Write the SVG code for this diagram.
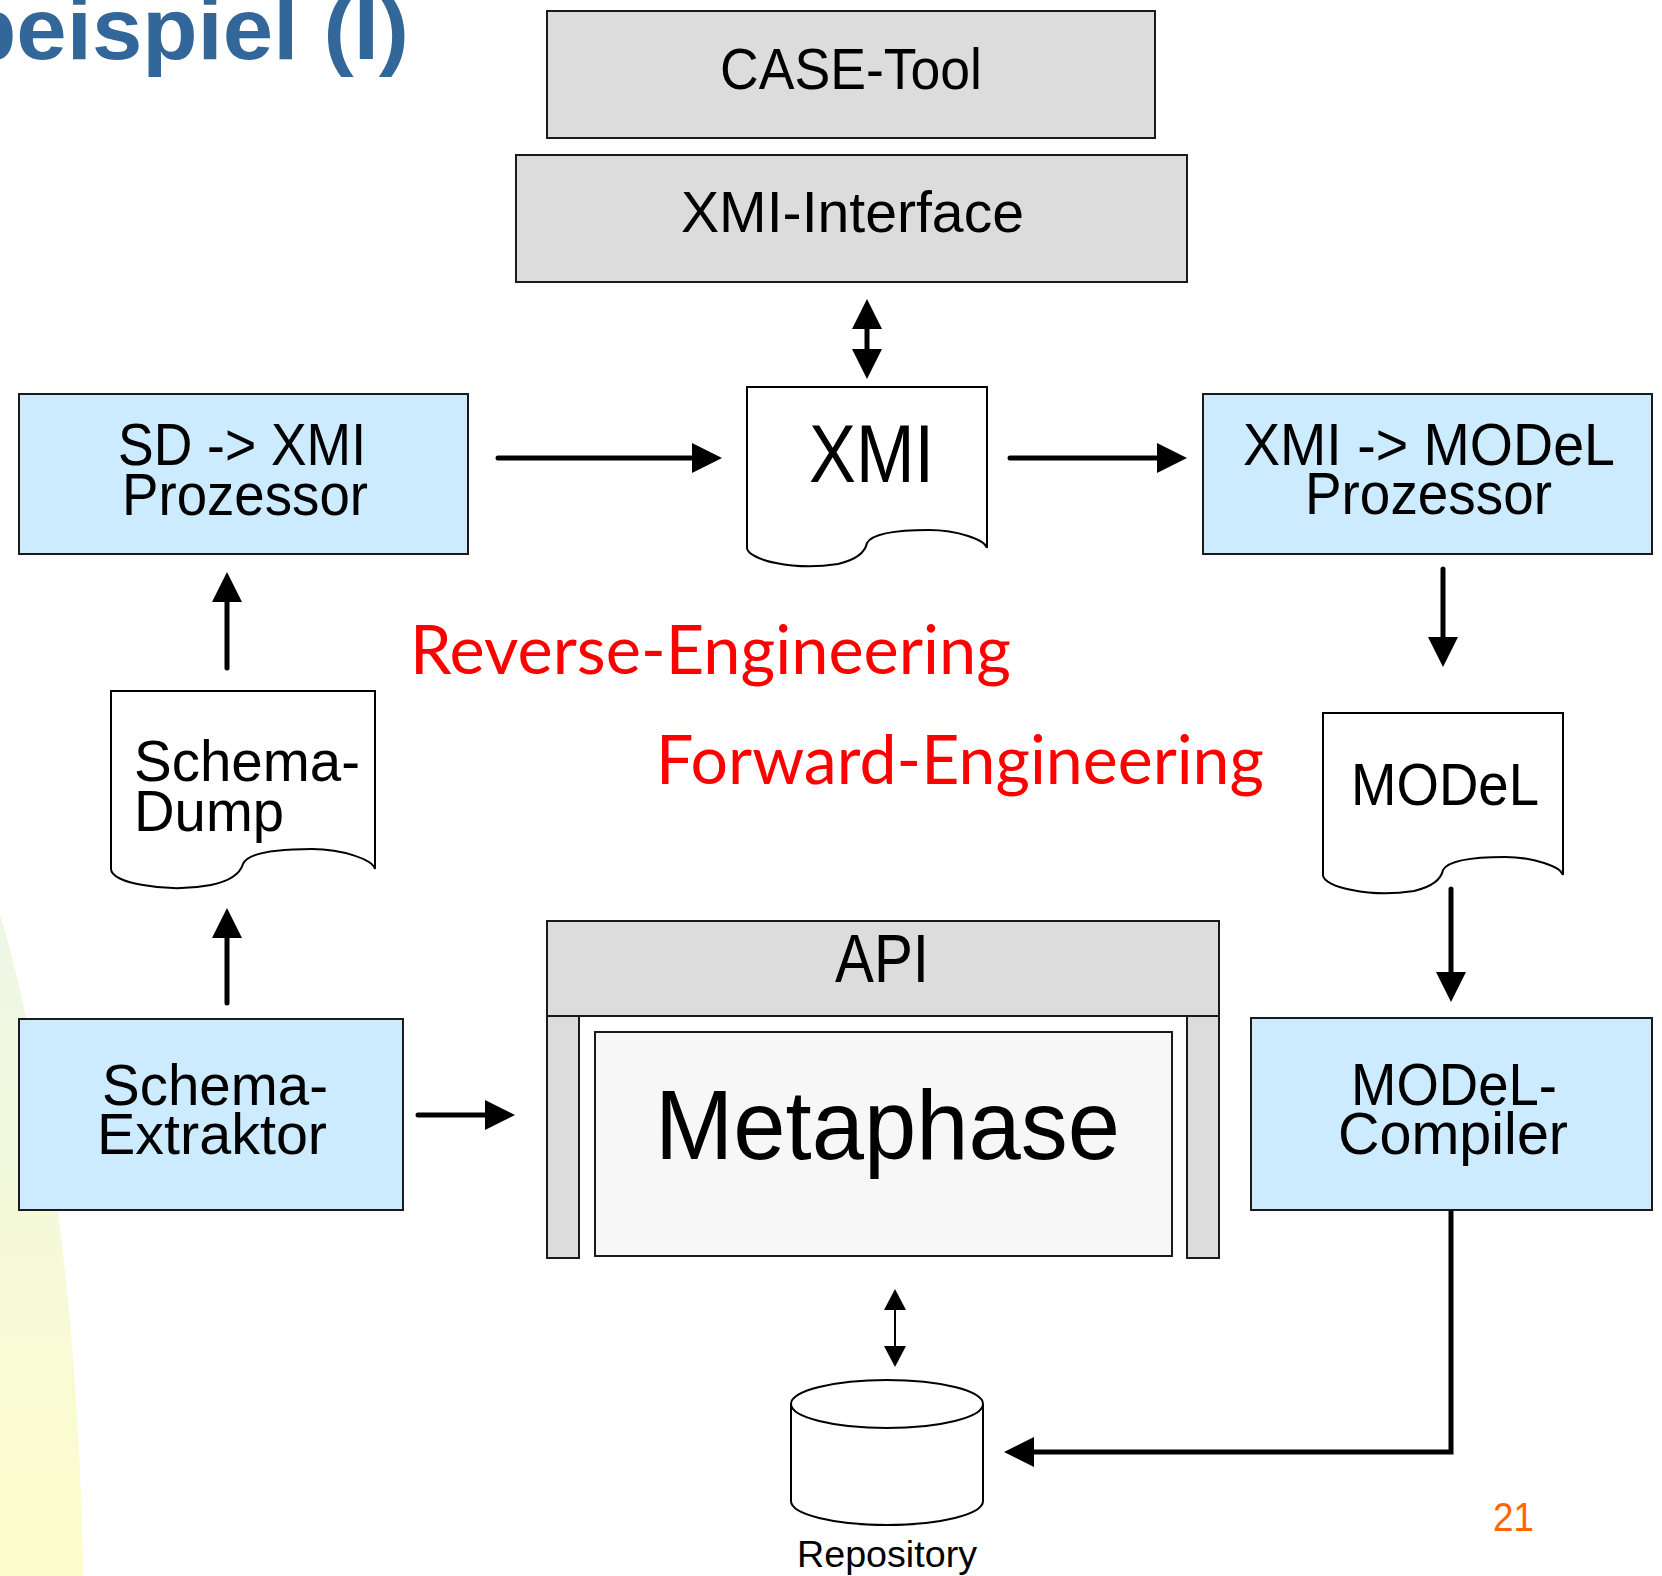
<svg xmlns="http://www.w3.org/2000/svg" width="1662" height="1576" viewBox="0 0 1662 1576">
<style>
.t{font-family:"Liberation Sans",Arial,sans-serif;fill:#000}
.gray{fill:#dcdcdc;stroke:#1a1a1a;stroke-width:2}
.blue{fill:#ccebff;stroke:#1a1a1a;stroke-width:2}
.doc{fill:#fff;stroke:#000;stroke-width:2}
.ln{fill:none;stroke:#000;stroke-width:5;stroke-linecap:round}
.thin{fill:none;stroke:#000;stroke-width:2}
.red{font-family:Lato,"Liberation Sans",sans-serif;fill:#ff0000}
</style>
<defs>
<linearGradient id="sw" x1="0" y1="0" x2="0" y2="1">
<stop offset="0" stop-color="#edf7e6"/>
<stop offset="1" stop-color="#fdfccb"/>
</linearGradient>
<marker id="ah" markerUnits="userSpaceOnUse" markerWidth="30" markerHeight="30" refX="0" refY="15" orient="auto-start-reverse" overflow="visible">
<path d="M0,0 L30,15 L0,30 Z" fill="#000"/>
</marker>
<marker id="ahs" markerUnits="userSpaceOnUse" markerWidth="21" markerHeight="22" refX="0" refY="11" orient="auto-start-reverse" overflow="visible">
<path d="M0,0 L21,11 L0,22 Z" fill="#000"/>
</marker>
</defs>
<rect width="1662" height="1576" fill="#fff"/>
<path d="M0,915 C30,1010 78,1250 83,1576 L0,1576 Z" fill="url(#sw)"/>
<text x="-39" y="59" textLength="448" lengthAdjust="spacingAndGlyphs" style="font-family:'Liberation Sans',Arial,sans-serif;font-weight:bold;font-size:88px;fill:#336699">beispiel (I)</text>

<g id="case-tool">
<rect class="gray" x="547" y="11" width="608" height="127"/>
<text class="t" x="720" y="89" font-size="58" textLength="262" lengthAdjust="spacingAndGlyphs">CASE-Tool</text>
</g>
<g id="xmi-interface">
<rect class="gray" x="516" y="155" width="671" height="127"/>
<text class="t" x="681" y="232" font-size="58" textLength="343" lengthAdjust="spacingAndGlyphs">XMI-Interface</text>
</g>
<g id="xmi">
<path class="doc" d="M747,387 H987 V548 C985,540 958,530 929,530 C896,530 872,534 867,543 C865,553 855,560 838,564 C819,567 795,567 776,563 C759,560 747,553 747,548 Z"/>
<text class="t" x="809" y="482" font-size="81" textLength="125" lengthAdjust="spacingAndGlyphs">XMI</text>
</g>
<g id="sd-xmi">
<rect class="blue" x="19" y="394" width="449" height="160"/>
<text class="t" x="118" y="465" font-size="59" textLength="248" lengthAdjust="spacingAndGlyphs">SD -&gt; XMI</text>
<text class="t" x="122" y="515" font-size="59" textLength="246" lengthAdjust="spacingAndGlyphs">Prozessor</text>
</g>
<g id="xmi-model">
<rect class="blue" x="1203" y="394" width="449" height="160"/>
<text class="t" x="1243" y="465" font-size="60" textLength="372" lengthAdjust="spacingAndGlyphs">XMI -&gt; MODeL</text>
<text class="t" x="1305" y="514" font-size="60" textLength="247" lengthAdjust="spacingAndGlyphs">Prozessor</text>
</g>
<g id="labels">
<text class="red" x="410" y="674" font-size="67" textLength="601" lengthAdjust="spacingAndGlyphs">Reverse-Engineering</text>
<text class="red" x="656" y="784" font-size="68" textLength="608" lengthAdjust="spacingAndGlyphs">Forward-Engineering</text>
</g>
<g id="schema-dump">
<path class="doc" d="M111,691 H375 V869 C373,860 343,849 312,849 C275,849 248,853 243,864 C240,874 230,881 211,885 C190,889 164,889 143,885 C124,882 111,876 111,869 Z"/>
<text class="t" x="134" y="781" font-size="58" textLength="226" lengthAdjust="spacingAndGlyphs">Schema-</text>
<text class="t" x="134" y="831" font-size="58" textLength="150" lengthAdjust="spacingAndGlyphs">Dump</text>
</g>
<g id="model">
<path class="doc" d="M1323,713 H1563 V875 C1561,867 1534,857 1505,857 C1472,857 1448,861 1443,870 C1441,880 1431,887 1414,891 C1395,894 1371,894 1352,890 C1335,887 1323,881 1323,875 Z"/>
<text class="t" x="1351" y="805" font-size="60" textLength="188" lengthAdjust="spacingAndGlyphs">MODeL</text>
</g>
<g id="schema-extraktor">
<rect class="blue" x="19" y="1019" width="384" height="191"/>
<text class="t" x="102" y="1105" font-size="58" textLength="226" lengthAdjust="spacingAndGlyphs">Schema-</text>
<text class="t" x="97" y="1154" font-size="58" textLength="230" lengthAdjust="spacingAndGlyphs">Extraktor</text>
</g>
<g id="metaphase">
<rect class="gray" x="547" y="921" width="672" height="95"/>
<rect class="gray" x="547" y="1016" width="32" height="242"/>
<rect class="gray" x="1187" y="1016" width="32" height="242"/>
<rect x="595" y="1032" width="577" height="224" fill="#f7f7f7" stroke="#1a1a1a" stroke-width="2"/>
<text class="t" x="835" y="982" font-size="68" textLength="94" lengthAdjust="spacingAndGlyphs">API</text>
<text class="t" x="655" y="1159" font-size="99" textLength="465" lengthAdjust="spacingAndGlyphs">Metaphase</text>
</g>
<g id="model-compiler">
<rect class="blue" x="1251" y="1018" width="401" height="192"/>
<text class="t" x="1351" y="1105" font-size="60" textLength="206" lengthAdjust="spacingAndGlyphs">MODeL-</text>
<text class="t" x="1338" y="1154" font-size="60" textLength="230" lengthAdjust="spacingAndGlyphs">Compiler</text>
</g>
<g id="repository">
<path d="M791,1404 A96,24 0 0 1 983,1404 V1501 A96,24 0 0 1 791,1501 Z" fill="#fff" stroke="#000" stroke-width="2"/>
<path d="M791,1404 A96,24 0 0 0 983,1404" fill="none" stroke="#000" stroke-width="2"/>
<text class="t" x="797" y="1567" font-size="36" textLength="180" lengthAdjust="spacingAndGlyphs">Repository</text>
</g>
<g id="connectors">
<path class="ln" d="M867,329 V349" marker-start="url(#ah)" marker-end="url(#ah)" style="stroke-linecap:butt"/>
<path class="ln" d="M498,458 H692" marker-end="url(#ah)"/>
<path class="ln" d="M1010,458 H1157" marker-end="url(#ah)"/>
<path class="ln" d="M1443,569 V637" marker-end="url(#ah)"/>
<path class="ln" d="M1451,889 V972" marker-end="url(#ah)"/>
<path class="ln" d="M1451,1210 V1452 H1034" marker-end="url(#ah)" style="stroke-linecap:butt;stroke-linejoin:miter"/>
<path class="ln" d="M227,1003 V938" marker-end="url(#ah)"/>
<path class="ln" d="M227,668 V602" marker-end="url(#ah)"/>
<path class="ln" d="M418,1115 H485" marker-end="url(#ah)"/>
<path class="thin" d="M895,1310 V1346" marker-start="url(#ahs)" marker-end="url(#ahs)"/>
</g>
<text x="1493" y="1531" style="font-family:'Liberation Sans',Arial,sans-serif;font-size:40px;fill:#ff6600" textLength="41" lengthAdjust="spacingAndGlyphs">21</text>
</svg>
